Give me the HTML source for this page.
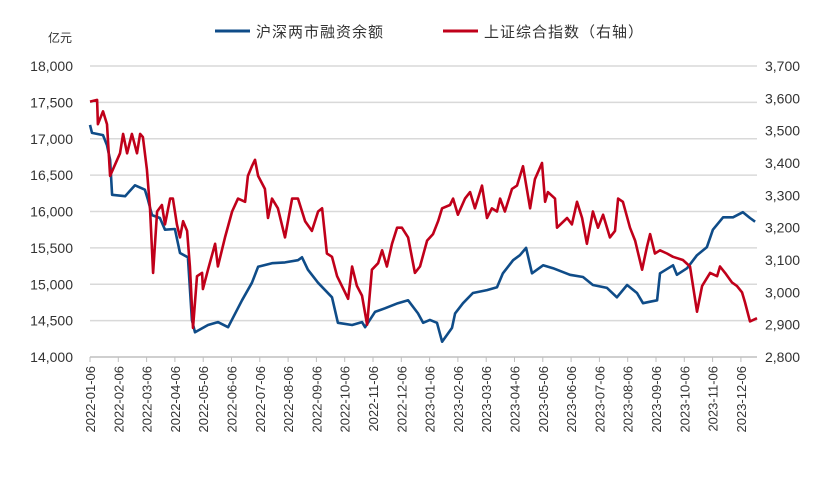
<!DOCTYPE html>
<html><head><meta charset="utf-8"><style>
body{margin:0;background:#fff;}
svg{display:block;font-family:"Liberation Sans","Noto Sans CJK SC",sans-serif;}
</style></head><body>
<svg id="c" width="839" height="480">
<text x="48" y="42" font-size="12" fill="#333">亿元</text>
<g>
<line x1="215" y1="31" x2="250" y2="31" stroke="#0f4c88" stroke-width="3"/>
<text x="256" y="37" font-size="15" fill="#333" letter-spacing="1">沪深两市融资余额</text>
<line x1="443" y1="31" x2="478" y2="31" stroke="#c0001a" stroke-width="3"/>
<text x="484" y="37" font-size="15" fill="#333" letter-spacing="1">上证综合指数（右轴）</text>
</g>
<g id="grid"></g>
<g id="ly"></g>
<g id="ry"></g>
<g id="xa"></g>
<g id="series"></g>
</svg>
<script>
const xLabels=["2022-01-06","2022-02-06","2022-03-06","2022-04-06","2022-05-06","2022-06-06","2022-07-06","2022-08-06","2022-09-06","2022-10-06","2022-11-06","2022-12-06","2023-01-06","2023-02-06","2023-03-06","2023-04-06","2023-05-06","2023-06-06","2023-07-06","2023-08-06","2023-09-06","2023-10-06","2023-11-06","2023-12-06"];
const leftTicks=[14000,14500,15000,15500,16000,16500,17000,17500,18000];
const rightTicks=[2800,2900,3000,3100,3200,3300,3400,3500,3600,3700];
// time in months since 2022-01-06
const marginT=[0,.07,.46,.60,.71,.78,1.24,1.59,1.94,2.05,2.19,2.47,2.65,3.00,3.18,3.46,3.60,3.71,4.17,4.52,4.88,5.37,5.72,5.94,6.43,6.89,7.35,7.49,7.70,8.06,8.55,8.76,9.26,9.61,9.72,10.07,10.42,10.88,11.24,11.59,11.77,12.01,12.26,12.44,12.79,12.90,13.18,13.53,14.03,14.38,14.59,14.95,15.19,15.41,15.62,16.01,16.36,16.96,17.42,17.77,18.27,18.62,18.98,19.33,19.54,19.79,20.04,20.14,20.60,20.74,21.10,21.45,21.80,22.01,22.37,22.72,23.07,23.32,23.50];
const marginV=[17190,17080,17050,16910,16710,16230,16210,16360,16300,16160,15950,15910,15750,15760,15430,15370,14510,14340,14440,14480,14410,14780,15020,15240,15290,15300,15330,15370,15200,15020,14820,14470,14440,14480,14410,14620,14670,14740,14780,14600,14470,14510,14470,14210,14400,14600,14740,14880,14920,14960,15150,15330,15400,15500,15150,15260,15220,15130,15100,14990,14950,14820,14990,14880,14740,14760,14780,15150,15260,15130,15220,15400,15510,15750,15920,15920,15990,15910,15860];
const indexT=[0,.25,.28,.46,.60,.71,1.06,1.17,1.31,1.48,1.66,1.77,1.87,2.01,2.12,2.23,2.37,2.54,2.65,2.83,2.93,3.07,3.18,3.29,3.43,3.53,3.64,3.78,3.96,3.99,4.17,4.42,4.52,4.77,5.02,5.23,5.48,5.58,5.72,5.83,5.94,6.18,6.29,6.43,6.64,6.89,7.14,7.35,7.60,7.84,8.06,8.20,8.37,8.55,8.73,9.01,9.12,9.26,9.43,9.61,9.79,9.96,10.18,10.32,10.49,10.67,10.85,11.02,11.24,11.48,11.66,11.91,12.12,12.30,12.44,12.72,12.83,13.00,13.25,13.43,13.60,13.85,14.03,14.20,14.38,14.49,14.66,14.91,15.09,15.30,15.55,15.72,15.97,16.08,16.18,16.43,16.50,16.86,17.03,17.21,17.39,17.56,17.77,17.95,18.13,18.37,18.55,18.66,18.83,19.08,19.26,19.51,19.68,19.79,19.96,20.14,20.39,20.60,20.95,21.20,21.45,21.63,21.91,22.16,22.26,22.44,22.69,22.86,23.04,23.14,23.32,23.57];
const indexV=[3590,3595,3520,3560,3520,3360,3430,3490,3430,3490,3430,3490,3480,3380,3260,3060,3250,3270,3210,3290,3290,3210,3170,3220,3190,3080,2890,3050,3060,3010,3070,3150,3080,3170,3250,3290,3280,3360,3390,3410,3360,3320,3230,3290,3260,3170,3290,3290,3220,3190,3250,3260,3120,3110,3050,3000,2980,3080,3020,2990,2900,3070,3090,3130,3080,3150,3200,3200,3170,3060,3080,3160,3180,3220,3260,3270,3290,3240,3290,3310,3260,3330,3230,3260,3250,3290,3250,3320,3330,3390,3260,3350,3400,3280,3310,3290,3200,3230,3210,3280,3230,3150,3250,3200,3240,3170,3190,3290,3280,3200,3160,3070,3140,3180,3120,3130,3120,3110,3100,3080,2940,3020,3060,3050,3080,3060,3030,3020,3000,2970,2910,2920];

const NS="http://www.w3.org/2000/svg";
const X0=90,X1=757,Y0=357,Y1=66,MW=28.3;
const xs=t=>X0+t*MW;
const yl=v=>Y0-(v-14000)/4000*(Y0-Y1);
const yr=v=>Y0-(v-2800)/900*(Y0-Y1);
function mk(tag,attrs,parent){const e=document.createElementNS(NS,tag);for(const k in attrs)e.setAttribute(k,attrs[k]);parent.appendChild(e);return e;}
const fmt=n=>n.toLocaleString('en-US');
const grid=document.getElementById('grid'),ly=document.getElementById('ly'),ry=document.getElementById('ry'),xa=document.getElementById('xa'),ser=document.getElementById('series');
leftTicks.forEach(v=>{
  const y=yl(v);
  if(v>14000){const g=mk('line',{x1:X0,x2:X1,y1:y,y2:y,stroke:'#d9d9d9','stroke-width':1.5},grid);
  
  }
  const t=mk('text',{x:73,y:y+5,'text-anchor':'end','font-size':14,fill:'#333'},ly);t.textContent=fmt(v);
  
  
});
rightTicks.forEach(v=>{
  const t=mk('text',{x:765,y:yr(v)+5,'font-size':14,fill:'#333'},ry);t.textContent=fmt(v);
  
  
});
const ax=mk('line',{x1:X0,x2:X1,y1:Y0,y2:Y0,stroke:'#bfbfbf','stroke-width':1.5},xa);


xLabels.forEach((l,i)=>{
  const x=xs(i);
  const tk=mk('line',{x1:x,x2:x,y1:Y0,y2:Y0+5,stroke:'#bfbfbf'},xa);
  
  
  const t=mk('text',{x:0,y:0,'text-anchor':'end','font-size':13,fill:'#333',transform:`translate(${x+5},${Y0+9}) rotate(-90)`},xa);
  t.textContent=l;
  
  
});
function line(T,V,yf,color,name){
  const d=T.map((t,i)=>(i?'L':'M')+xs(t).toFixed(1)+','+yf(V[i]).toFixed(1)).join('');
  const p=mk('path',{d:d,fill:'none',stroke:color,'stroke-width':2.6,'stroke-linejoin':'round'},ser);
  
  
}
line(marginT,marginV,yl,'#0f4c88','margin-balance-line');
line(indexT,indexV,yr,'#c0001a','sse-index-line');
</script>
</body></html>
